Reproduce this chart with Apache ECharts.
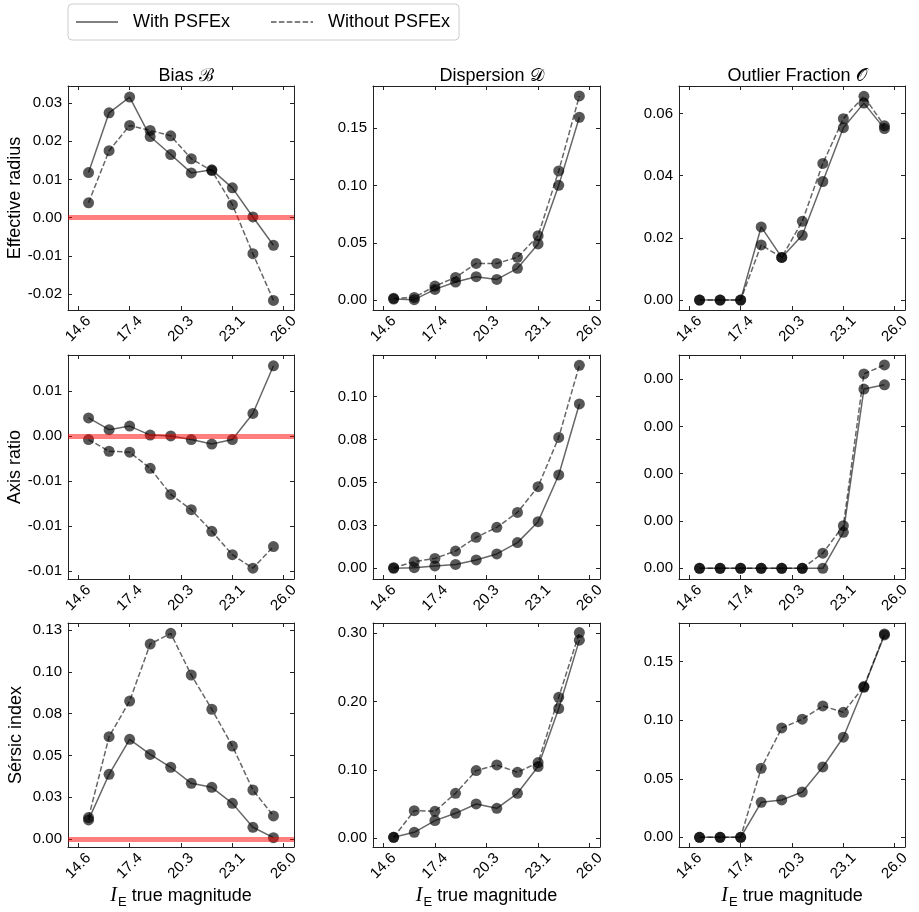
<!DOCTYPE html>
<html>
<head>
<meta charset="utf-8">
<script src="https://cdn.jsdelivr.net/npm/echarts@6/dist/echarts.min.js"></script>
<style>
  html, body { margin: 0; padding: 0; background: #fff; }
  #main { width: 919px; height: 912px; }
</style>
</head>
<body>
<div id="main"></div>
<script>
// bin centres of I_E true magnitude
var magBins = [15.17, 16.31, 17.45, 18.59, 19.73, 20.87, 22.01, 23.15, 24.29, 25.43];
var xTicks = [14.6, 17.45, 20.3, 23.15, 26.0];
var xTickLabels = ['14.6', '17.4', '20.3', '23.1', '26.0'];
var colTitles = ['Bias \u212C', 'Dispersion \uD835\uDC9F', 'Outlier Fraction \uD835\uDCAA'];
var rowNames = ['Effective radius', 'Axis ratio', 'S\u00e9rsic index'];
var legendNames = ['With PSFEx', 'Without PSFEx'];

// effective radius
var reBiasWith = [0.0118, 0.0274, 0.0315, 0.0212, 0.0165, 0.0117, 0.0125, 0.0078, 0.0002, -0.0072];
var reBiasWithout = [0.0039, 0.0175, 0.0241, 0.0228, 0.0214, 0.0154, 0.0123, 0.0034, -0.0094, -0.0216];
var reDispWith = [0.0009, 0.0003, 0.0093, 0.0157, 0.0204, 0.0180, 0.0277, 0.0490, 0.1002, 0.1597];
var reDispWithout = [0.0015, 0.0023, 0.0122, 0.0198, 0.0320, 0.0320, 0.0373, 0.0562, 0.1128, 0.1783];
var reOutWith = [0, 0, 0, 0.0235, 0.0137, 0.0208, 0.0381, 0.0554, 0.0633, 0.0551];
var reOutWithout = [0, 0, 0, 0.0177, 0.0137, 0.0253, 0.0439, 0.0583, 0.0655, 0.0560];

// axis ratio
var qBiasWith = [0.0020, 0.0007, 0.0011, 0.0001, 0.0000, -0.0004, -0.0009, -0.0004, 0.0025, 0.0078];
var qBiasWithout = [-0.0004, -0.0017, -0.0018, -0.0036, -0.0065, -0.0082, -0.0106, -0.0132, -0.0147, -0.0123];
var qDispWith = [0.0000, 0.0004, 0.0014, 0.0023, 0.0049, 0.0084, 0.0150, 0.0272, 0.0544, 0.0958];
var qDispWithout = [0.0004, 0.0039, 0.0058, 0.0101, 0.0181, 0.0239, 0.0326, 0.0476, 0.0763, 0.1183];
var qOutWith = [0, 0, 0, 0, 0, 0, 0, 0.00076, 0.00379, 0.00388];
var qOutWithout = [0, 0, 0, 0, 0, 0, 0.00032, 0.00090, 0.00411, 0.00430];

// sersic index
var nBiasWith = [0.0114, 0.0387, 0.0596, 0.0506, 0.0429, 0.0333, 0.0309, 0.0213, 0.0070, 0.0008];
var nBiasWithout = [0.0128, 0.0612, 0.0825, 0.1166, 0.1230, 0.0981, 0.0776, 0.0556, 0.0293, 0.0138];
var nDispWith = [0.0015, 0.0088, 0.0259, 0.0366, 0.0503, 0.0439, 0.0659, 0.1050, 0.1900, 0.2900];
var nDispWithout = [0.0015, 0.0405, 0.0395, 0.0659, 0.0991, 0.1074, 0.0966, 0.1108, 0.2064, 0.3011];
var nOutWith = [0, 0, 0, 0.0299, 0.0319, 0.0387, 0.0601, 0.0855, 0.1282, 0.1729];
var nOutWithout = [0, 0, 0, 0.0590, 0.0934, 0.1009, 0.1122, 0.1068, 0.1288, 0.1738];

// y tick values and their printed labels, per panel
var reBiasTicks = [-0.02, -0.01, 0, 0.01, 0.02, 0.03];
var reBiasLabels = ['-0.02', '-0.01', '0.00', '0.01', '0.02', '0.03'];
var reDispTicks = [0, 0.05, 0.10, 0.15];
var reDispLabels = ['0.00', '0.05', '0.10', '0.15'];
var reOutTicks = [0, 0.02, 0.04, 0.06];
var reOutLabels = ['0.00', '0.02', '0.04', '0.06'];
var qBiasTicks = [-0.015, -0.01, -0.005, 0, 0.005];
var qBiasLabels = ['-0.01', '-0.01', '-0.01', '0.00', '0.01'];
var qDispTicks = [0, 0.025, 0.05, 0.075, 0.10];
var qDispLabels = ['0.00', '0.03', '0.05', '0.08', '0.10'];
var qOutTicks = [0, 0.001, 0.002, 0.003, 0.004];
var qOutLabels = ['0.00', '0.00', '0.00', '0.00', '0.00'];
var nBiasTicks = [0, 0.025, 0.05, 0.075, 0.10, 0.125];
var nBiasLabels = ['0.00', '0.03', '0.05', '0.08', '0.10', '0.13'];
var nDispTicks = [0, 0.10, 0.20, 0.30];
var nDispLabels = ['0.00', '0.10', '0.20', '0.30'];
var nOutTicks = [0, 0.05, 0.10, 0.15];
var nOutLabels = ['0.00', '0.05', '0.10', '0.15'];

var panels = [
  [reBiasWith, reBiasWithout, reBiasTicks, reBiasLabels],
  [reDispWith, reDispWithout, reDispTicks, reDispLabels],
  [reOutWith, reOutWithout, reOutTicks, reOutLabels],
  [qBiasWith, qBiasWithout, qBiasTicks, qBiasLabels],
  [qDispWith, qDispWithout, qDispTicks, qDispLabels],
  [qOutWith, qOutWithout, qOutTicks, qOutLabels],
  [nBiasWith, nBiasWithout, nBiasTicks, nBiasLabels],
  [nDispWith, nDispWithout, nDispTicks, nDispLabels],
  [nOutWith, nOutWithout, nOutTicks, nOutLabels]
];

// layout (axis limits like matplotlib autoscale)
var yLimits = [
  [-0.0241, 0.0344], [-0.0087, 0.187], [-0.0032, 0.0688],
  [-0.0159, 0.0090], [-0.0062, 0.1243], [-0.000226, 0.00451],
  [-0.0048, 0.1292], [-0.0127, 0.3151], [-0.0083, 0.1831]
];
var xLimits = [14.03, 26.57];
var gridLeft = [68, 373, 679];
var gridWidth = [226, 227, 226];
var gridTop = [86, 355, 623];
var gridHeight = 224;

var FONT = 'Liberation Sans';
var lineColor = 'rgba(0,0,0,0.6)';
var dotColor = 'rgba(0,0,0,0.66)';

function pair(xs, ys) {
  return xs.map(function (x, i) { return [x, ys[i]]; });
}
function labelFor(ticks, labels) {
  return function (v) {
    for (var i = 0; i < ticks.length; i++) {
      if (Math.abs(ticks[i] - v) < 1e-9) return labels[i];
    }
    return '';
  };
}

var grids = [], xAxes = [], yAxes = [], series = [], titles = [];

// legend-only series
series.push({
  name: legendNames[0], type: 'line', data: [], symbol: 'none',
  lineStyle: { color: '#808080', width: 1.5, type: 'solid' }, itemStyle: { color: '#808080' }
});
series.push({
  name: legendNames[1], type: 'line', data: [], symbol: 'none',
  lineStyle: { color: '#808080', width: 1.5, type: [5.5, 2.4] }, itemStyle: { color: '#808080' }
});

panels.forEach(function (p, k) {
  var r = Math.floor(k / 3), c = k % 3;
  grids.push({ left: gridLeft[c], top: gridTop[r], width: gridWidth[c], height: gridHeight, containLabel: false });

  var frameLine = { show: true, onZero: false, lineStyle: { color: '#222', width: 1 } };
  var inTick = { show: true, inside: true, length: 4, lineStyle: { color: '#222', width: 1 } };

  var bottomX = {
    type: 'value', gridIndex: k, position: 'bottom', min: xLimits[0], max: xLimits[1],
    axisLine: frameLine, splitLine: { show: false },
    axisTick: Object.assign({ customValues: xTicks }, inTick),
    axisLabel: {
      customValues: xTicks, rotate: 45, align: 'center', verticalAlign: 'middle', margin: 19,
      fontFamily: FONT, fontSize: 15, color: '#000',
      formatter: labelFor(xTicks, xTickLabels)
    }
  };
  if (r === 2) {
    bottomX.name = '{i|I}{s|E}{t|true magnitude}';
    bottomX.nameLocation = 'middle';
    bottomX.nameGap = 36;
    bottomX.nameTextStyle = {
      rich: {
        i: { fontFamily: 'Liberation Serif', fontStyle: 'italic', fontSize: 20, color: '#000', lineHeight: 26, verticalAlign: 'middle' },
        s: { fontFamily: FONT, fontSize: 13, color: '#000', lineHeight: 24, verticalAlign: 'bottom', padding: [0, 5, 0, 1] },
        t: { fontFamily: FONT, fontSize: 18, color: '#000', lineHeight: 26, verticalAlign: 'middle' }
      }
    };
  }
  xAxes.push(bottomX);
  xAxes.push({
    type: 'value', gridIndex: k, position: 'top', min: xLimits[0], max: xLimits[1],
    axisLine: frameLine, splitLine: { show: false },
    axisTick: Object.assign({ customValues: xTicks }, inTick),
    axisLabel: { show: false }
  });

  var ticks = p[2], labels = p[3];
  var leftY = {
    type: 'value', gridIndex: k, position: 'left', min: yLimits[k][0], max: yLimits[k][1],
    axisLine: frameLine, splitLine: { show: false },
    axisTick: Object.assign({ customValues: ticks }, inTick),
    axisLabel: {
      customValues: ticks, margin: 6, fontFamily: FONT, fontSize: 15, color: '#000',
      formatter: labelFor(ticks, labels)
    }
  };
  if (c === 0) {
    leftY.name = rowNames[r];
    leftY.nameLocation = 'middle';
    leftY.nameGap = 43;
    leftY.nameTextStyle = { fontFamily: FONT, fontSize: 18, color: '#000' };
  }
  yAxes.push(leftY);
  yAxes.push({
    type: 'value', gridIndex: k, position: 'right', min: yLimits[k][0], max: yLimits[k][1],
    axisLine: frameLine, splitLine: { show: false },
    axisTick: Object.assign({ customValues: ticks }, inTick),
    axisLabel: { show: false }
  });

  // red zero line in the bias column
  if (c === 0) {
    series.push({
      type: 'line', xAxisIndex: 2 * k, yAxisIndex: 2 * k, data: [], z: 1, silent: true,
      markLine: {
        silent: true, symbol: 'none', animation: false, label: { show: false },
        lineStyle: { color: 'rgba(255,0,0,0.5)', width: 5, type: 'solid' },
        data: [{ yAxis: 0 }]
      }
    });
  }

  [0, 1].forEach(function (j) {
    series.push({
      name: legendNames[j] + ' ' + k,
      type: 'line', xAxisIndex: 2 * k, yAxisIndex: 2 * k, z: 3,
      data: pair(magBins, p[j]),
      symbol: 'circle', symbolSize: 11, showSymbol: true,
      lineStyle: { color: lineColor, width: 1.5, type: j === 0 ? 'solid' : [5.5, 2.4] },
      itemStyle: { color: dotColor, borderWidth: 0 },
      emphasis: { disabled: true },
      animation: false
    });
  });

  if (r === 0) {
    titles.push({
      text: colTitles[c], left: gridLeft[c] + gridWidth[c] / 2, top: 62, textAlign: 'center',
      textStyle: { fontFamily: FONT, fontSize: 18, fontWeight: 'normal', color: '#000' }
    });
  }
});

var chart = echarts.init(document.getElementById('main'));
chart.setOption({
  backgroundColor: '#fff',
  animation: false,
  title: titles,
  legend: {
    data: legendNames, left: 68, top: 4, selectedMode: false,
    itemWidth: 42, itemHeight: 14, itemGap: 40,
    padding: [9, 9, 9, 7],
    borderColor: '#ccc', borderWidth: 1, borderRadius: 4,
    itemStyle: { opacity: 0 },
    textStyle: { fontFamily: FONT, fontSize: 18, color: '#000', padding: [0, 0, 0, 10] }
  },
  grid: grids,
  xAxis: xAxes,
  yAxis: yAxes,
  series: series
});
</script>
</body>
</html>
